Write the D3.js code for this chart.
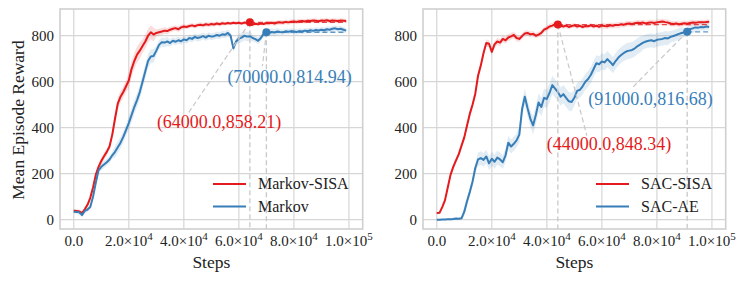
<!DOCTYPE html>
<html>
<head>
<meta charset="utf-8">
<script src="https://cdn.jsdelivr.net/npm/d3@7"></script>
<style>
  body { margin: 0; background: #fff; }
  svg text { font-family: "Liberation Serif", "Times New Roman", serif; fill: #222; }
</style>
</head>
<body>
<div id="chart"></div>
<script>

// ---- data (one value every 1000 steps, 0 .. 99000) ----
var steps = d3.range(0, 100000, 1000);

var markovSisa = [39,38,36,29,45,65,95,140,195,230,255,276,295,318,370,440,505,535,555,580,
  605,655,690,718,735,755,775,800,815,805,812,815,818,822,820,826,830,833,828,836,
  840,838,842,845,841,846,848,845,850,847,851,849,853,850,854,852,855,853,856,854,
  856,853,857,855,858.21,848,852,850,853,851,855,854,856,853,857,858,856,860,858,861,
  862,860,863,864,862,865,864,866,865,863,866,865,867,864,866,865,864,866,865,864];

var markov = [35,34,32,20,38,44,55,100,160,215,230,240,250,262,280,295,315,335,360,390,
  420,455,490,520,555,600,645,690,710,712,735,760,772,770,775,768,778,774,780,776,
  784,780,790,786,795,790,793,798,792,800,796,798,803,800,806,804,812,800,745,775,
  788,792,800,796,798,790,785,778,790,808,814.94,812,816,814,818,816,815,819,817,820,
  818,816,820,818,822,820,824,821,825,823,826,824,828,826,830,832,828,830,826,822];

var sacSisa = [29,30,55,85,140,195,230,258,285,322,358,410,460,500,548,626,670,725,768,765,
  730,762,775,770,786,780,792,797,803,790,786,798,810,812,806,808,800,805,812,826,
  832,840,844,850,848.34,843,840,844,838,842,845,840,843,838,842,841,845,840,843,839,
  844,842,841,845,843,847,846,850,848,852,853,851,854,856,855,857,853,856,858,855,
  858,860,862,859,857,853,851,853,850,852,854,852,855,857,856,858,859,858,860,861];

var sacAe = [0,0,1,1,2,2,3,5,4,6,35,80,120,165,225,262,268,260,275,245,
  265,252,270,262,250,280,335,318,330,345,370,480,535,485,440,410,455,510,490,530,
  525,552,585,570,555,535,546,530,515,512,530,560,565,580,600,612,630,655,680,676,
  688,684,698,686,672,690,705,716,725,732,735,738,745,755,762,770,775,778,780,776,
  782,784,786,790,788,795,799,803,808,812,815,816.68,828,832,836,835,838,837,840,838];

// spread of the shaded band, one value per 5000 steps
var markovSisaSpread = [8,10,15,25,35,30,15,12,10,10,10,8,8,8,10,10,10,10,10,10];
var markovSpread     = [8,10,15,25,30,30,20,15,15,15,15,15,20,15,15,12,12,12,12,12];
var sacSisaSpread    = [5,10,15,15,15,15,12,12,12,10,10,10,12,12,12,12,12,12,12,10];
var sacAeSpread      = [2,5,20,30,30,30,35,40,40,40,35,35,35,35,35,30,30,25,20,15];

// marked points [step, value]
var markovSisaMark = [64000, 858.21];
var markovMark     = [70000, 814.94];
var sacSisaMark    = [44000, 848.34];
var sacAeMark      = [91000, 816.68];

var xTicks = [0, 20000, 40000, 60000, 80000, 100000];
var xTickLabels = ["0.0", "2.0×10|4", "4.0×10|4", "6.0×10|4", "8.0×10|4", "1.0×10|5"];
var yTicks = [0, 200, 400, 600, 800];

var red = "#e41a1c", blue = "#377eb8";

// ---- layout ----
var W = 748, H = 282;
var plotW = 302.7, plotH = 220;

var svg = d3.select("#chart").append("svg")
  .attr("width", W).attr("height", H);

var panels = [
  { left: 60, series: [
      { name: "Markov-SISA", values: markovSisa, spread: markovSisaSpread, color: red,
        mark: markovSisaMark, text: [-93, 106], link: [-61, 90] },
      { name: "Markov", values: markov, spread: markovSpread, color: blue,
        mark: markovMark, text: [-39, 51], link: [-4, 34] }
    ], ylabel: true, legendX: 213 - 60 },
  { left: 423, series: [
      { name: "SAC-SISA", values: sacSisa, spread: sacSisaSpread, color: red,
        mark: sacSisaMark, text: [-11, 125], link: [29, 111] },
      { name: "SAC-AE", values: sacAe, spread: sacAeSpread, color: blue,
        mark: sacAeMark, text: [-99, 73], link: [-55, 56] }
    ], ylabel: false, legendX: 596 - 423 }
];

panels.forEach(function(p) {
  var g = svg.append("g").attr("transform", "translate(" + p.left + ",9)");

  var x = d3.scaleLinear().domain([-5000, 105000]).range([0, plotW]);
  var y = d3.scaleLinear().domain([-40.4, 916.1]).range([plotH, 0]);

  // grid
  g.selectAll(".gx").data(xTicks).enter().append("line")
    .attr("x1", function(d) { return x(d); }).attr("x2", function(d) { return x(d); })
    .attr("y1", 0).attr("y2", plotH)
    .attr("stroke", "#d6d6d6").attr("stroke-width", 1.2);
  g.selectAll(".gy").data(yTicks).enter().append("line")
    .attr("y1", function(d) { return y(d); }).attr("y2", function(d) { return y(d); })
    .attr("x1", 0).attr("x2", plotW)
    .attr("stroke", "#d6d6d6").attr("stroke-width", 1.2);

  // bands and lines
  p.series.forEach(function(s) {
    var area = d3.area()
      .x(function(d, i) { return x(steps[i]); })
      .y0(function(d, i) { return y(d - s.spread[Math.floor(i / 5)]); })
      .y1(function(d, i) { return y(d + s.spread[Math.floor(i / 5)]); });
    g.append("path").datum(s.values)
      .attr("fill", s.color).attr("fill-opacity", 0.15)
      .attr("d", area);
  });
  p.series.forEach(function(s) {
    g.append("path").datum(s.values)
      .attr("fill", "none").attr("stroke", s.color).attr("stroke-width", 2)
      .attr("stroke-linejoin", "round")
      .attr("d", d3.line()
        .x(function(d, i) { return x(steps[i]); })
        .y(function(d) { return y(d); }));
  });

  // annotations
  p.series.forEach(function(s) {
    var px = x(s.mark[0]), py = y(s.mark[1]);
    g.append("line")
      .attr("x1", px).attr("x2", px).attr("y1", py).attr("y2", plotH)
      .attr("stroke", "#c8c8c8").attr("stroke-width", 1.3).attr("stroke-dasharray", "5,3");
    g.append("line")
      .attr("x1", px).attr("x2", x(steps[steps.length - 1])).attr("y1", py).attr("y2", py)
      .attr("stroke", s.color).attr("stroke-width", 1.3).attr("stroke-dasharray", "5,3")
      .attr("stroke-opacity", 0.8);
    g.append("line")
      .attr("x1", px).attr("y1", py)
      .attr("x2", px + s.link[0]).attr("y2", py + s.link[1])
      .attr("stroke", "#c8c8c8").attr("stroke-width", 1.2).attr("stroke-dasharray", "5,3");
    g.append("circle").attr("cx", px).attr("cy", py).attr("r", 4).attr("fill", s.color);
    g.append("text")
      .attr("x", px + s.text[0]).attr("y", py + s.text[1])
      .style("font-size", "18px").style("fill", s.color)
      .text("(" + s.mark[0].toFixed(1) + "," + s.mark[1].toFixed(2) + ")");
  });

  // frame
  g.append("rect").attr("width", plotW).attr("height", plotH)
    .attr("fill", "none").attr("stroke", "#cfcfcf").attr("stroke-width", 1.6);

  // tick labels
  g.selectAll(".yl").data(yTicks).enter().append("text")
    .attr("x", -6).attr("y", function(d) { return y(d); })
    .attr("dy", "0.35em").attr("text-anchor", "end")
    .style("font-size", "15px").text(function(d) { return d; });

  xTicks.forEach(function(d, i) {
    var parts = xTickLabels[i].split("|");
    var t = g.append("text").attr("x", x(d)).attr("y", 237)
      .attr("text-anchor", "middle").style("font-size", "15px");
    t.append("tspan").text(parts[0]);
    if (parts[1]) {
      t.append("tspan").attr("dy", -6).style("font-size", "11px").text(parts[1]);
    }
  });

  g.append("text").attr("x", plotW / 2).attr("y", 259)
    .attr("text-anchor", "middle").style("font-size", "17.5px").text("Steps");

  if (p.ylabel) {
    g.append("text")
      .attr("transform", "translate(-36," + (plotH / 2 + 1) + ") rotate(-90)")
      .attr("text-anchor", "middle").style("font-size", "17.5px")
      .text("Mean Episode Reward");
  }

  // legend
  p.series.forEach(function(s, i) {
    var ly = 175 + i * 22.5;
    g.append("line").attr("x1", p.legendX).attr("x2", p.legendX + 33)
      .attr("y1", ly).attr("y2", ly)
      .attr("stroke", s.color).attr("stroke-width", 2);
    g.append("text").attr("x", p.legendX + 45).attr("y", ly).attr("dy", "0.33em")
      .style("font-size", "16px").text(s.name);
  });
});

</script>
</body>
</html>
